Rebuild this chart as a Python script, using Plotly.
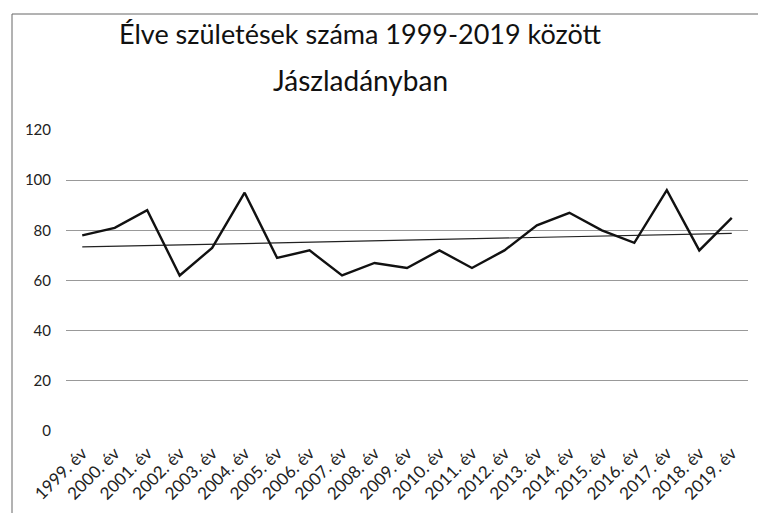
import numpy as np
import plotly.graph_objects as go

years = [f"{y}. év" for y in range(1999, 2020)]
births = [78, 81, 88, 62, 73, 95, 69, 72, 62, 67, 65, 72, 65, 72, 82, 87, 80, 75, 96, 72, 85]
y_ticks = [0, 20, 40, 60, 80, 100, 120]
title_line1 = "Élve születések száma 1999-2019 között"
title_line2 = "Jászladányban"

idx = np.arange(len(births))
slope, intercept = np.polyfit(idx, births, 1)
trend = slope * idx + intercept

FONT = "Lato"

fig = go.Figure()
fig.add_trace(go.Scatter(x=years, y=trend, mode="lines",
                         line=dict(color="#222222", width=1.2), hoverinfo="skip",
                         showlegend=False))
fig.add_trace(go.Scatter(x=years, y=births, mode="lines",
                         line=dict(color="#111111", width=2.4), showlegend=False))

L, R, T, B = 66, 10, 130, 82
W, H = 758, 513
pw, ph = W - L - R, H - T - B

def px(x):
    return (x - L) / pw

def py(y):
    return (H - B - y) / ph

fig.update_layout(
    width=W, height=H,
    margin=dict(l=L, r=R, t=T, b=B),
    paper_bgcolor="white", plot_bgcolor="white",
    font=dict(family=FONT, color="#222222"),
    xaxis=dict(type="category", range=[-0.5, len(years) - 0.5],
               tickangle=-45, tickfont=dict(size=17, family=FONT, color="#222222"),
               showgrid=False, showline=False, ticks="", zeroline=False,
               ticklabelstandoff=8, automargin=False),
    yaxis=dict(range=[0, 120], tickvals=y_ticks,
               tickfont=dict(size=15, family=FONT, color="#222222"),
               showgrid=True, gridcolor="#999999", gridwidth=1,
               zeroline=False, showline=False, ticks="", ticklabelstandoff=14,
               automargin=False),
    annotations=[
        dict(text=title_line1, xref="paper", yref="paper", x=px(360), y=py(34),
             showarrow=False, font=dict(size=27, family=FONT, color="#111111"),
             xanchor="center", yanchor="middle"),
        dict(text=title_line2, xref="paper", yref="paper", x=px(360), y=py(80),
             showarrow=False, font=dict(size=28, family=FONT, color="#111111"),
             xanchor="center", yanchor="middle"),
    ],
    shapes=[
        dict(type="line", xref="paper", yref="paper",
             x0=px(12), x1=px(758), y0=py(14), y1=py(14),
             line=dict(color="#666666", width=1), layer="below"),
        dict(type="line", xref="paper", yref="paper",
             x0=px(12), x1=px(12), y0=py(14), y1=py(513),
             line=dict(color="#666666", width=1), layer="below"),
    ],
)

fig.write_html("out.html", config={"displayModeBar": False},
               post_script="document.body.style.margin='0';document.body.style.overflow='hidden';"
                           "document.documentElement.style.overflow='hidden';")
